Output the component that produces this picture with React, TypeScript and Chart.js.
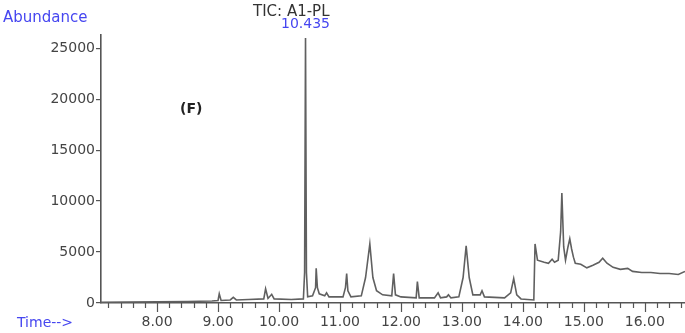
import React, { useEffect, useRef } from "react";
import { Chart, registerables } from "chart.js";

Chart.register(...registerables);

// Retention time (min) and abundance
const times = [
  7.08, 7.5, 8.0, 8.5, 8.9, 9.0, 9.02, 9.05, 9.2, 9.25, 9.3, 9.5, 9.75, 9.78, 9.82, 9.88, 9.92, 10.2,
  10.4, 10.42, 10.435, 10.45, 10.47, 10.55, 10.6, 10.61, 10.63, 10.66, 10.75, 10.78, 10.82,
  11.05, 11.09, 11.11, 11.13, 11.18, 11.35, 11.42, 11.49, 11.54, 11.6, 11.7, 11.85, 11.88, 11.91,
  12.0, 12.25, 12.27, 12.3, 12.55, 12.61, 12.65, 12.75, 12.78, 12.82, 12.95, 13.02, 13.07, 13.12,
  13.18, 13.3, 13.33, 13.37, 13.7, 13.8, 13.85, 13.9, 13.97, 14.18, 14.2, 14.24, 14.35, 14.42,
  14.48, 14.52, 14.58, 14.62, 14.64, 14.67, 14.7, 14.74, 14.77, 14.8, 14.83, 14.86, 14.95, 15.05,
  15.15, 15.25, 15.31, 15.38, 15.48, 15.6, 15.72, 15.8, 15.95, 16.1, 16.25, 16.4, 16.55, 16.66,
];
const abundance = [
  80, 100, 120, 150, 200, 250, 900, 250, 300, 550, 300, 350, 400, 1400, 450, 850, 400, 350,
  400, 3000, 26000, 3000, 600, 700, 1500, 3400, 1500, 900, 700, 1000, 600,
  600, 1500, 2900, 1200, 600, 700, 2500, 5800, 2500, 1200, 800, 700, 2900, 800,
  600, 500, 2100, 500, 500, 1000, 500, 600, 800, 500, 600, 2500, 5600, 2500,
  800, 800, 1200, 600, 500, 1000, 2400, 800, 400, 300, 5800, 4200, 4000, 3900,
  4300, 4000, 4200, 7000, 10800, 5500, 4200, 5500, 6300, 5300, 4500, 3900, 3800, 3450,
  3700, 4000, 4400, 3900, 3500, 3300, 3400, 3100, 3000, 3000, 2900, 2900, 2800, 3100,
];

const yTicks = [0, 5000, 10000, 15000, 20000, 25000];
const title = "TIC: A1-PL";
const peakLabel = "10.435";
const peakTime = 10.435;
const panelLabel = "(F)";
const yAxisTitle = "Abundance";
const xAxisTitle = "Time-->";

const BLUE = "#4646f0";
const FONT = "'DejaVu Sans', sans-serif";

const isWhole = (v: number) => Math.abs(v - Math.round(v)) < 1e-6;

const overlayPlugin = {
  id: "overlay",
  afterDraw(chart: any) {
    const { ctx, scales } = chart;
    const x = scales.x;
    const y = scales.y;
    ctx.save();
    // x-axis ticks: minor every 0.2 min, longer at whole minutes
    ctx.strokeStyle = "#555";
    ctx.lineWidth = 1.2;
    x.ticks.forEach((t: any) => {
      const px = Math.round(x.getPixelForValue(t.value)) + 0.5;
      ctx.beginPath();
      ctx.moveTo(px, x.top);
      ctx.lineTo(px, x.top + (isWhole(t.value) ? 9 : 5));
      ctx.stroke();
    });
    ctx.textBaseline = "middle";
    // peak label
    const pk = x.getPixelForValue(peakTime);
    ctx.font = `14px ${FONT}`;
    ctx.fillStyle = BLUE;
    ctx.textAlign = "center";
    ctx.fillText(peakLabel, pk, y.top - 11);
    // title
    ctx.fillStyle = "#333";
    ctx.textAlign = "right";
    ctx.font = `15px ${FONT}`;
    ctx.fillText(title, pk + 24, y.top - 23);
    // y axis title
    ctx.fillStyle = BLUE;
    ctx.textAlign = "left";
    ctx.font = `15px ${FONT}`;
    ctx.fillText(yAxisTitle, 3, y.top - 17);
    // x axis title
    ctx.font = `14px ${FONT}`;
    ctx.fillText(xAxisTitle, 17, x.top + 20);
    // panel label
    ctx.fillStyle = "#222";
    ctx.font = `bold 14px ${FONT}`;
    ctx.textAlign = "center";
    ctx.fillText(panelLabel, x.getPixelForValue(8.56), y.getPixelForValue(19000));
    ctx.restore();
  },
};

export default function App() {
  const ref = useRef<HTMLCanvasElement>(null);
  useEffect(() => {
    if (!ref.current) return;
    const data = times.map((t, i) => ({ x: t, y: abundance[i] }));
    const chart = new Chart(ref.current, {
      type: "line",
      data: {
        datasets: [
          {
            data,
            borderColor: "#606060",
            borderWidth: 1.6,
            pointRadius: 0,
            tension: 0,
            fill: false,
          },
        ],
      },
      options: {
        responsive: false,
        animation: false,
        layout: { padding: { left: 8, right: 0, top: 35, bottom: 0 } },
        plugins: { legend: { display: false }, tooltip: { enabled: false } },
        scales: {
          x: {
            type: "linear",
            min: 7.08,
            max: 16.66,
            afterFit: (s: any) => {
              s.height = 30;
              s.paddingLeft = 0;
              s.paddingRight = 0;
            },
            border: { color: "#555", width: 1.6 },
            grid: { drawOnChartArea: false, drawTicks: false, color: "#555" },
            ticks: {
              stepSize: 0.2,
              includeBounds: false,
              autoSkip: false,
              maxRotation: 0,
              padding: 11,
              color: "#444",
              font: { family: FONT, size: 14 },
              callback: (v: any) => {
                const n = Number(v);
                return isWhole(n) ? Math.round(n).toFixed(2) : "";
              },
            },
          },
          y: {
            type: "linear",
            min: 0,
            max: 26300,
            afterFit: (s: any) => {
              s.width = 93;
              s.paddingTop = 0;
              s.paddingBottom = 0;
            },
            afterBuildTicks: (s: any) => {
              s.ticks = yTicks.map((v) => ({ value: v }));
            },
            border: { color: "#555", width: 1.6 },
            grid: { drawOnChartArea: false, tickLength: 5, color: "#555", lineWidth: 1.2 },
            ticks: {
              padding: 1,
              color: "#444",
              font: { family: FONT, size: 14 },
              callback: (v: any) => String(v),
            },
          },
        },
      },
      plugins: [overlayPlugin],
    });
    return () => chart.destroy();
  }, []);
  return (
    <div style={{ position: "fixed", left: 0, top: 0, width: 685, height: 333, background: "#fff" }}>
      <canvas ref={ref} width={685} height={333} />
    </div>
  );
}
